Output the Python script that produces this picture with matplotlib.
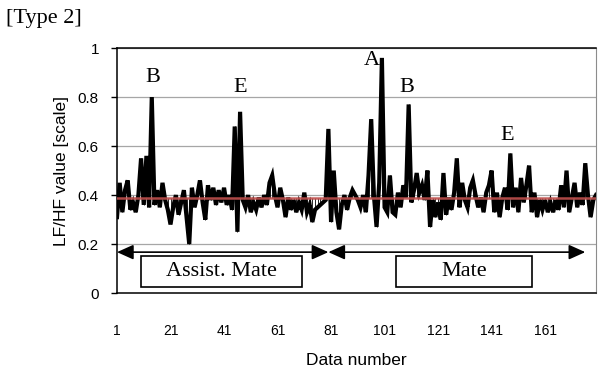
import numpy as np
import matplotlib
matplotlib.use("Agg")
import matplotlib.pyplot as plt
from matplotlib.patches import Rectangle

# LF/HF values, data number 1..180
lfhf = [0.31, 0.45, 0.33, 0.42, 0.46, 0.34, 0.37, 0.33, 0.40, 0.55,
        0.36, 0.56, 0.35, 0.80, 0.36, 0.42, 0.35, 0.45, 0.38, 0.34,
        0.28, 0.35, 0.40, 0.32, 0.37, 0.42, 0.31, 0.20, 0.43, 0.35,
        0.40, 0.46, 0.37, 0.30, 0.44, 0.38, 0.43, 0.36, 0.42, 0.37,
        0.43, 0.36, 0.40, 0.34, 0.68, 0.25, 0.74, 0.38, 0.35, 0.40,
        0.33, 0.37, 0.34, 0.39, 0.35, 0.40, 0.36, 0.45, 0.48, 0.40,
        0.35, 0.43, 0.38, 0.31, 0.39, 0.34, 0.38, 0.33, 0.37, 0.34,
        0.41, 0.33, 0.36, 0.29, 0.34, 0.35, 0.36, 0.37, 0.38, 0.67,
        0.29, 0.50, 0.33, 0.26, 0.36, 0.40, 0.34, 0.39, 0.42, 0.40,
        0.38, 0.35, 0.40, 0.33, 0.48, 0.71, 0.40, 0.27, 0.45, 0.96,
        0.35, 0.33, 0.48, 0.33, 0.32, 0.41, 0.35, 0.44, 0.39, 0.77,
        0.37, 0.42, 0.49, 0.41, 0.44, 0.38, 0.50, 0.27, 0.38, 0.31,
        0.37, 0.30, 0.49, 0.32, 0.39, 0.34, 0.41, 0.55, 0.35, 0.45,
        0.38, 0.35, 0.43, 0.46, 0.40, 0.35, 0.39, 0.33, 0.41, 0.44,
        0.50, 0.33, 0.41, 0.31, 0.39, 0.43, 0.34, 0.57, 0.35, 0.43,
        0.33, 0.47, 0.37, 0.44, 0.52, 0.33, 0.41, 0.31, 0.38, 0.34,
        0.38, 0.33, 0.37, 0.33, 0.38, 0.34, 0.44, 0.35, 0.50, 0.33,
        0.39, 0.45, 0.35, 0.41, 0.36, 0.53, 0.40, 0.31, 0.38, 0.40]
baseline = 0.39
xticks = [1, 21, 41, 61, 81, 101, 121, 141, 161]
yticks = [0, 0.2, 0.4, 0.6, 0.8, 1]
peak_labels = ["B", "E", "A", "B", "E"]
peak_pos = [(14.5, 0.878), (47.1, 0.84), (96.1, 0.951), (109.2, 0.84), (146.7, 0.645)]
phase_names = ["Assist. Mate", "Mate"]
phase_spans = [(1, 80), (80, 176)]
phase_boxes = [(10.0, 70.3), (105.1, 156.1)]

x = np.arange(1, len(lfhf) + 1)
y = np.array(lfhf)

serif = "Liberation Serif"
sans = "Liberation Sans"

fig = plt.figure(figsize=(6.04, 3.70), dpi=100)
ax = fig.add_axes([0.1937, 0.208, 0.793, 0.662])

ax.set_xlim(1, len(lfhf))
ax.set_ylim(0, 1)
for yv in yticks[1:]:
    ax.axhline(yv, color="#a6a6a6", lw=0.9, zorder=0)

ax.vlines(x, baseline, y, color="black", lw=0.6, zorder=2)
ax.plot(x, y, color="black", lw=3, solid_joinstyle="miter", zorder=3)
# mean line drawn over the series
ax.plot(x, np.full(len(x), baseline), color="#c0504d", lw=1.8, alpha=0.9, zorder=4)

for lab, (px, py) in zip(peak_labels, peak_pos):
    ax.text(px, py, lab, fontsize=16, family=serif, ha="center", va="center", zorder=5)

for (x0, x1) in phase_spans:
    ax.annotate("", xy=(x1, 0.167), xytext=(x0, 0.167),
                arrowprops=dict(arrowstyle="<|-|>,head_length=1.0,head_width=0.45",
                                color="black", lw=1.2, shrinkA=0, shrinkB=0),
                zorder=5)

for name, (b0, b1) in zip(phase_names, phase_boxes):
    ax.add_patch(Rectangle((b0, 0.025), b1 - b0, 0.126, fill=False,
                           edgecolor="black", lw=1.2, zorder=5))
    ax.text((b0 + b1) / 2, 0.088, name, fontsize=16, family=serif,
            ha="center", va="center", zorder=6)

ax.set_xticks(xticks)
ax.set_xticklabels([str(t) for t in xticks], family=sans, fontsize=10)
ax.set_yticks(yticks)
ax.set_yticklabels(["0", "0.2", "0.4", "0.6", "0.8", "1"], family=sans, fontsize=11)
ax.tick_params(axis="x", length=0, pad=22)
ax.tick_params(axis="y", length=4, width=1, pad=9)

for side in ["top", "left", "bottom"]:
    ax.spines[side].set_color("black")
    ax.spines[side].set_linewidth(1.1)
ax.spines["right"].set_color("#8c8c8c")

ax.set_ylabel("LF/HF value [scale]", family=sans, fontsize=12.5, labelpad=6)
ax.set_xlabel("Data number", family=sans, fontsize=12.5, labelpad=11)

fig.text(0.01, 0.95, "[Type 2]", family=serif, fontsize=16, ha="left", va="center")

fig.savefig("out.png", dpi=100)
